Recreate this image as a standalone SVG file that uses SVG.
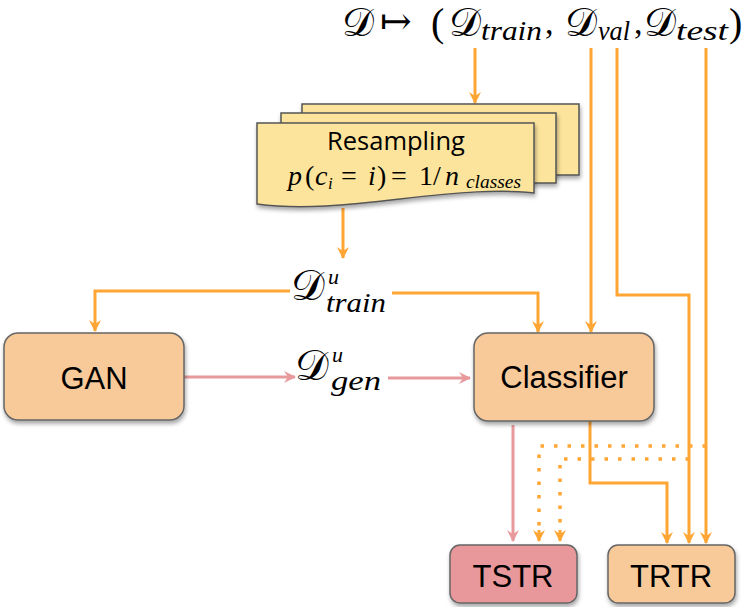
<svg xmlns="http://www.w3.org/2000/svg" width="746" height="607" viewBox="0 0 746 607">
<defs>
<marker id="ao" viewBox="0 0 12 12" refX="11" refY="6" markerWidth="12" markerHeight="12" markerUnits="userSpaceOnUse" orient="auto">
<path d="M0,0 L12,6 L0,12 L4,6 z" fill="#FFA533"/>
</marker>
<marker id="ap" viewBox="0 0 12 12" refX="11" refY="6" markerWidth="12" markerHeight="12" markerUnits="userSpaceOnUse" orient="auto">
<path d="M0,0 L12,6 L0,12 L4,6 z" fill="#E8999B"/>
</marker>
<filter id="sh" x="-10%" y="-10%" width="130%" height="140%">
<feDropShadow dx="1" dy="3" stdDeviation="2" flood-color="#000" flood-opacity="0.35"/>
</filter>
<style>
.o{fill:none;stroke:#FFA533;stroke-width:3}
.p{fill:none;stroke:#E8999B;stroke-width:3}
.d{fill:none;stroke:#FFA533;stroke-width:3.5;stroke-dasharray:3.5 10}
.box{fill:#F8CA9A;stroke:#666;stroke-width:1.5}
.sheet{fill:#FCE49C;stroke:#555;stroke-width:1.5}
.lbl{font-family:"Liberation Sans",Arial,sans-serif;font-size:31px;fill:#000;text-anchor:middle}
.m{font-family:"Liberation Serif","DejaVu Serif",serif;font-style:normal;fill:#000}
.cal{font-family:"DejaVu Serif","Liberation Serif",serif;font-style:normal}
.it{font-family:"Liberation Serif",serif;font-style:italic}
</style>
</defs>

<g id="connectors">
<path class="o" d="M475,48 V103" marker-end="url(#ao)"/>
<path class="o" d="M591,48 V332" marker-end="url(#ao)"/>
<path class="o" d="M617,48 V295 H689 V543" marker-end="url(#ao)"/>
<path class="o" d="M706,48 V543" marker-end="url(#ao)"/>
<path class="o" d="M343,208 V258" marker-end="url(#ao)"/>
<path class="o" d="M290,291 H95 V331" marker-end="url(#ao)"/>
<path class="o" d="M392,293 H538 V332" marker-end="url(#ao)"/>
<path class="p" d="M184,377 H295" marker-end="url(#ap)"/>
<path class="p" d="M388,378 H470" marker-end="url(#ap)"/>
<path class="p" d="M513,425 V541" marker-end="url(#ap)"/>
<path class="d" d="M706,446 H539 V536"/>
<path class="d" d="M689,459 H560 V536"/>
<path class="o" d="M539,530 V541" marker-end="url(#ao)"/>
<path class="o" d="M560,530 V541" marker-end="url(#ao)"/>
<path class="o" d="M590,421 V483 H667 V543" marker-end="url(#ao)"/>
</g>

<g id="split-label">
<text class="m" font-size="40" y="36"><tspan class="cal" x="342">𝒟</tspan><tspan x="380" y="34" font-size="38">↦</tspan><tspan x="431" y="36">(</tspan><tspan class="cal" x="449">𝒟</tspan><tspan class="it" x="481" y="40" font-size="28" textLength="61" lengthAdjust="spacingAndGlyphs">train</tspan><tspan x="545" y="34" font-size="34">,</tspan><tspan class="cal" x="565" y="36">𝒟</tspan><tspan class="it" x="598" y="40" font-size="28" textLength="32" lengthAdjust="spacingAndGlyphs">val</tspan><tspan x="634" y="34" font-size="34">,</tspan><tspan class="cal" x="644" y="36">𝒟</tspan><tspan class="it" x="676" y="40" font-size="28" textLength="52" lengthAdjust="spacingAndGlyphs">test</tspan><tspan x="729" y="36">)</tspan></text>
</g>

<g id="resampling">
<rect class="sheet" x="302" y="104" width="277" height="71" filter="url(#sh)"/>
<rect class="sheet" x="281" y="113" width="275" height="70" filter="url(#sh)"/>
<path class="sheet" d="M257,123 H534 V193 C500,189 460,192 400,199 C350,205 300,210 257,204 Z" filter="url(#sh)"/>
<text x="396" y="150" font-family="'Open Sans','Noto Sans',sans-serif" font-size="25.5" text-anchor="middle" fill="#000">Resampling</text>
<text class="m" font-size="28" y="185"><tspan class="it" x="288">p</tspan><tspan x="305">(</tspan><tspan class="it" x="315">c</tspan><tspan class="it" x="328" y="189" font-size="17">i</tspan><tspan x="341" y="185">=</tspan><tspan class="it" x="368">i</tspan><tspan x="377">)</tspan><tspan x="391">=</tspan><tspan x="419">1</tspan><tspan x="433">/</tspan><tspan class="it" x="445">n</tspan><tspan class="it" x="466" y="188" font-size="18" textLength="55" lengthAdjust="spacingAndGlyphs">classes</tspan></text>
</g>

<g id="dtrain-label">
<text class="m" font-size="42" y="300"><tspan class="cal" x="291">𝒟</tspan><tspan class="it" x="328" y="284" font-size="22">u</tspan><tspan class="it" x="326" y="312" font-size="28" textLength="60" lengthAdjust="spacingAndGlyphs">train</tspan></text>
</g>

<g id="dgen-label">
<text class="m" font-size="42" y="380"><tspan class="cal" x="295">𝒟</tspan><tspan class="it" x="332" y="362" font-size="22">u</tspan><tspan class="it" x="331" y="390" font-size="28" textLength="50" lengthAdjust="spacingAndGlyphs">gen</tspan></text>
</g>

<g id="gan">
<rect class="box" x="4" y="333" width="180" height="87" rx="14" filter="url(#sh)"/>
<text class="lbl" x="94" y="389">GAN</text>
</g>

<g id="classifier">
<rect class="box" x="474" y="333" width="180" height="88" rx="14" filter="url(#sh)"/>
<text class="lbl" x="564" y="388">Classifier</text>
</g>

<g id="tstr">
<rect x="450" y="545" width="127" height="58" rx="10" fill="#E8989A" stroke="#666" stroke-width="1.5" filter="url(#sh)"/>
<text class="lbl" x="513" y="587">TSTR</text>
</g>

<g id="trtr">
<rect class="box" x="608" y="545" width="127" height="58" rx="10" filter="url(#sh)"/>
<text class="lbl" x="671" y="587">TRTR</text>
</g>
</svg>
